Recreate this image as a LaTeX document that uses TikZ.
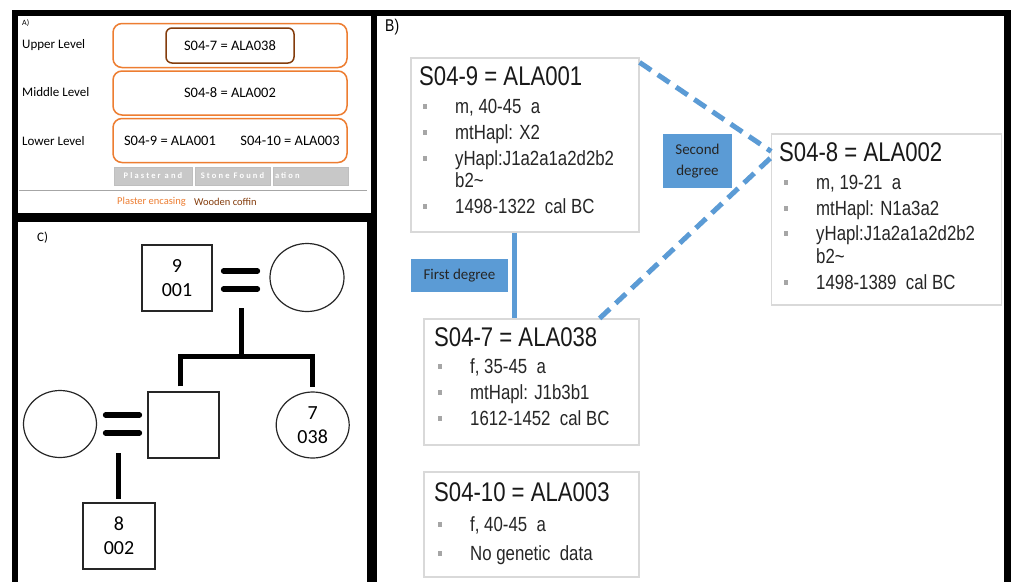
\documentclass[tikz,border=0pt]{standalone}
\usepackage{fontspec}
\setmainfont{Carlito}
\newfontfamily\narrowsans[FakeStretch=0.82]{Liberation Sans}
\usetikzlibrary{shapes.geometric}
\definecolor{plaster}{HTML}{ED7D31}
\definecolor{coffin}{HTML}{843C0C}
\definecolor{kinblue}{HTML}{5B9BD5}
\definecolor{boxline}{HTML}{D9D9D9}
\definecolor{found}{HTML}{C8C8C8}
\definecolor{bulgray}{HTML}{A6A6A6}
\newcommand{\bulsq}{\makebox[32pt][l]{\raisebox{4.5pt}{\textcolor{bulgray}{\rule{3.5pt}{4.5pt}}}}}
\newcommand{\nobul}{\hspace*{32pt}}
\begin{document}
\begin{tikzpicture}[x=1pt,y=-1pt,
    levelbox/.style={rectangle,draw=plaster,line width=1.5pt,rounded corners=9pt,minimum width=234pt,minimum height=44pt,font=\fontsize{14.5}{17}\selectfont},
    coffinbox/.style={rectangle,draw=coffin,line width=1.5pt,rounded corners=6pt,minimum width=128pt,minimum height=35pt,font=\fontsize{14.5}{17}\selectfont},
    levellabel/.style={anchor=west,inner sep=0pt,font=\fontsize{13}{15}\selectfont},
    foundbox/.style={rectangle,draw=black!25,fill=found,minimum height=18pt,inner sep=0pt,text=white,font=\fontsize{8.5}{10}\selectfont\bfseries\addfontfeature{LetterSpace=25}},
    infobox/.style={rectangle,draw=boxline,line width=1.2pt,fill=white},
    infotitle/.style={anchor=base west,inner sep=0pt,text=black!90,font=\narrowsans\fontsize{27}{32}\selectfont},
    infoline/.style={anchor=base west,inner sep=0pt,text=black!85,font=\narrowsans\fontsize{20.5}{24}\selectfont},
    degtag/.style={rectangle,fill=kinblue,inner sep=0pt,align=center,text=black!85,font=\fontsize{15}{21}\selectfont},
    firstline/.style={draw=kinblue,line width=4.5pt},
    secondline/.style={draw=kinblue,line width=5pt,dash pattern=on 14pt off 8pt},
    pedshape/.style={draw=black!85,line width=1.2pt,inner sep=0pt,align=center,font=\fontsize{20}{24}\selectfont},
    couplebar/.style={line width=5.5pt,line cap=round},
    kinline/.style={line width=5pt}]
\useasboundingbox (0,0) rectangle (1011,582);
% frame
\fill[black] (12,10) rectangle (1011,582);
\fill[white] (18,16) rectangle (371,213);
\fill[white] (377,16) rectangle (1004,582);
\fill[white] (18,222) rectangle (367,582);
% Panel A
\node[anchor=west,inner sep=0pt,font=\fontsize{8}{9}\selectfont] (labA) at (22,23) {A)};
\node[levelbox] (upper) at (230,45.5) {};
\node[coffinbox] (coffin7) at (230,45.5) {S04-7 = ALA038};
\node[levelbox] (middle) at (230,93) {S04-8 = ALA002};
\node[levelbox] (lower) at (230,140.5) {};
\node[font=\fontsize{14.5}{17}\selectfont] (lower9) at (170,141) {S04-9 = ALA001};
\node[font=\fontsize{14.5}{17}\selectfont] (lower10) at (290,141) {S04-10 = ALA003};
\node[levellabel] (labupper) at (22,45) {Upper Level};
\node[levellabel] (labmiddle) at (22,92) {Middle Level};
\node[levellabel] (lablower) at (22,141) {Lower Level};
\node[foundbox,minimum width=78pt] (found1) at (153,176) {Plaster and};
\node[foundbox,minimum width=75pt] (found2) at (232.5,176) {Stone Found};
\node[foundbox,minimum width=75pt,text width=71pt,align=left] (found3) at (310.5,176) {ation};
\draw[black!35,line width=1pt] (19,190.5) -- (367,190.5);
\node[anchor=west,inner sep=0pt,text=plaster,font=\fontsize{10.5}{12}\selectfont] (legplaster) at (117,202) {Plaster encasing};
\node[anchor=west,inner sep=0pt,text=coffin,font=\fontsize{10.5}{12}\selectfont] (legcoffin) at (194,202) {Wooden coffin};
% Panel B
\node[anchor=west,inner sep=0pt,font=\narrowsans\fontsize{17}{19}\selectfont] (labB) at (385,27) {B)};
\node[infobox,minimum width=228pt,minimum height=174pt] (b9) at (525,145) {};
\node[infotitle] (b9t) at (419,85) {S04-9 = ALA001};
\node[infoline] (b9a) at (423,113) {\bulsq m, 40-45\ \ a};
\node[infoline] (b9b) at (423,139) {\bulsq mtHapl: X2};
\node[infoline] (b9c) at (423,165) {\bulsq yHapl:J1a2a1a2d2b2};
\node[infoline] (b9d) at (423,187) {\nobul b2\textasciitilde};
\node[infoline] (b9e) at (423,213) {\bulsq 1498-1322\ \ cal BC};
\node[infobox,minimum width=230pt,minimum height=171pt] (b8) at (886.75,219.5) {};
\node[infotitle] (b8t) at (779,161) {S04-8 = ALA002};
\node[infoline] (b8a) at (784,189) {\bulsq m, 19-21\ \ a};
\node[infoline] (b8b) at (784,215) {\bulsq mtHapl: N1a3a2};
\node[infoline] (b8c) at (784,240) {\bulsq yHapl:J1a2a1a2d2b2};
\node[infoline] (b8d) at (784,263) {\nobul b2\textasciitilde};
\node[infoline] (b8e) at (784,289) {\bulsq 1498-1389\ \ cal BC};
\node[infobox,minimum width=215pt,minimum height=126pt] (b7) at (531.5,382) {};
\node[infotitle] (b7t) at (434,346) {S04-7 = ALA038};
\node[infoline] (b7a) at (438,373) {\bulsq f, 35-45\ \ a};
\node[infoline] (b7b) at (438,399) {\bulsq mtHapl: J1b3b1};
\node[infoline] (b7c) at (438,425) {\bulsq 1612-1452\ \ cal BC};
\node[infobox,minimum width=215pt,minimum height=105pt] (b10) at (531.5,524.5) {};
\node[infotitle] (b10t) at (434,501) {S04-10 = ALA003};
\node[infoline] (b10a) at (438,531) {\bulsq f, 40-45\ \ a};
\node[infoline] (b10b) at (438,560) {\bulsq No genetic\ \ data};
\node[degtag,minimum width=69pt,minimum height=54pt] (deg2) at (697.5,161) {Second\\degree};
\node[degtag,minimum width=97pt,minimum height=33pt] (deg1) at (459.5,275.5) {First degree};
\draw[firstline] ([xshift=104pt]b9.south west) -- ([xshift=104pt]b9.south west |- b7.north);
\draw[secondline] ([yshift=-5pt]b9.north east) -- ([yshift=-18pt]b8.north west);
\draw[secondline] ([xshift=-40pt]b7.north east) -- ([yshift=-24pt]b8.north west);
% Panel C
\node[anchor=west,inner sep=0pt,font=\fontsize{13}{15}\selectfont] (labC) at (37,238) {C)};
\node[pedshape,rectangle,minimum width=70pt,minimum height=66pt] (p9) at (177,278) {9\\001};
\node[pedshape,ellipse,minimum width=74pt,minimum height=68pt] (m9) at (307,277.5) {};
\node[pedshape,rectangle,minimum width=71pt,minimum height=66pt] (s9) at (183.5,425) {};
\node[pedshape,ellipse,minimum width=73pt,minimum height=66pt] (d7) at (312.7,425) {7\\038};
\node[pedshape,ellipse,minimum width=73pt,minimum height=67pt] (w8) at (60,424) {};
\node[pedshape,rectangle,minimum width=72pt,minimum height=66pt] (p8) at (119,536) {8\\002};
\draw[couplebar,shorten <=11pt,shorten >=12pt] ([yshift=7pt]p9.east) -- ([yshift=7pt]p9.east -| m9.west);
\draw[couplebar,shorten <=11pt,shorten >=12pt] ([yshift=-11pt]p9.east) -- ([yshift=-11pt]p9.east -| m9.west);
\coordinate (c9) at (241,308);
\coordinate (sib) at (241,356);
\draw[kinline] (c9) -- (sib);
\draw[kinline] ([xshift=-3pt,yshift=5pt]s9.north) |- (sib) -| ([yshift=4pt]d7.north);
\draw[couplebar,shorten <=8.5pt,shorten >=8pt] ([yshift=9pt]w8.east) -- ([yshift=9pt]w8.east -| s9.west);
\draw[couplebar,shorten <=8.5pt,shorten >=8pt] ([yshift=-9pt]w8.east) -- ([yshift=-9pt]w8.east -| s9.west);
\coordinate (c8) at (118,453);
\draw[kinline,shorten >=3pt] (c8) -- (c8 |- p8.north);
\end{tikzpicture}
\end{document}
